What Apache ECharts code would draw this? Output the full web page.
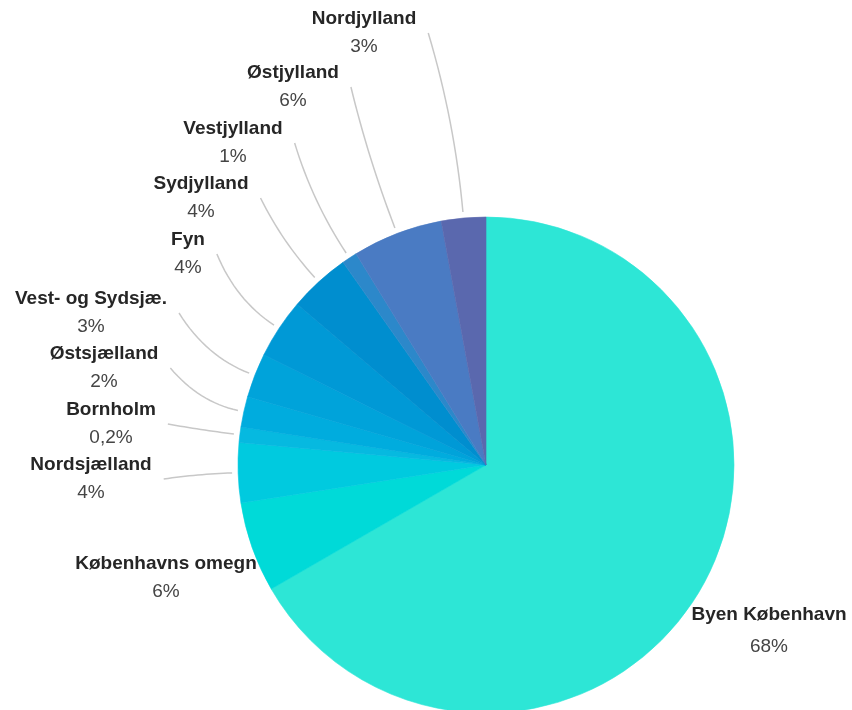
<!DOCTYPE html>
<html><head><meta charset="utf-8">
<script src="https://cdn.jsdelivr.net/npm/echarts@6/dist/echarts.min.js"></script>
<style>html,body{margin:0;padding:0;background:#fff}#c{width:852px;height:710px}</style>
</head><body><div id="c"></div>
<script>
// Data (share of total) and the printed labels
const regions = ['Byen København','Københavns omegn','Nordsjælland','Bornholm','Østsjælland','Vest- og Sydsjæ.','Fyn','Sydjylland','Vestjylland','Østjylland','Nordjylland'];
const shares = [66.8, 5.9, 3.9, 1.0, 2.0, 2.9, 3.9, 4.0, 1.0, 5.9, 2.9];
const shareLabels = ['68%','6%','4%','0,2%','2%','3%','4%','4%','1%','6%','3%'];

// Styling / layout
const colors = ['#2de6d6','#00dad8','#00cadf','#06b9e0','#00acde','#00a3da','#0099d6','#008ecf','#2c88ca','#4a7bc3','#5a68ae'];
const labelPos = [[769,631],[166,578],[91,479],[111,424],[104,368],[91,313],[188,254],[201,198],[233,143],[293,87],[364,33]];
const CX = 486, CY = 465, R = 248;
const FONT = "'Liberation Sans', Arial, sans-serif";

const total = shares.reduce((a,b)=>a+b,0);
const chart = echarts.init(document.getElementById('c'), null, {renderer:'canvas'});

function bezierPts(a, c, b, n) {
  const pts = [];
  for (let s = 0; s <= n; s++) {
    const t = s / n, u = 1 - t;
    pts.push([u*u*a[0] + 2*u*t*c[0] + t*t*b[0], u*u*a[1] + 2*u*t*c[1] + t*t*b[1]]);
  }
  return pts;
}

chart.setOption({
  animation: false,
  backgroundColor: '#fff',
  series: [{
    type: 'pie',
    center: [CX, CY],
    radius: R,
    startAngle: 90,
    clockwise: true,
    avoidLabelOverlap: false,
    silent: true,
    emphasis: {disabled: true},
    data: regions.map((n,i)=>({
      name: n, value: shares[i],
      itemStyle: {color: colors[i], borderColor: colors[i], borderWidth: 0.6},
      labelLine: {show: i >= 2}
    })),
    label: {
      show: true,
      position: 'outside',
      formatter: p => p.dataIndex === 0
        ? '{nb|' + p.name + '}\n{pb|' + shareLabels[p.dataIndex] + '}'
        : '{n|' + p.name + '}\n{p|' + shareLabels[p.dataIndex] + '}',
      rich: {
        n: {fontSize: 19, fontWeight: 'bold', color: '#262626', lineHeight: 28, fontFamily: FONT, align: 'center'},
        p: {fontSize: 19, color: '#454545', lineHeight: 28, fontFamily: FONT, align: 'center'},
        nb: {fontSize: 19, fontWeight: 'bold', color: '#262626', lineHeight: 32, fontFamily: FONT, align: 'center'},
        pb: {fontSize: 19, color: '#454545', lineHeight: 32, fontFamily: FONT, align: 'center'}
      }
    },
    labelLine: {
      show: true,
      smooth: false,
      lineStyle: {color: '#c8c8c8', width: 1.5}
    },
    labelLayout: function (p) {
      const i = p.dataIndex;
      const pos = labelPos[i];
      const res = {x: pos[0], y: pos[1], align: 'center', verticalAlign: 'middle'};
      if (i >= 2) {
        let before = 0;
        for (let k = 0; k < i; k++) before += shares[k];
        const mid = (before + shares[i] / 2) / total * 2 * Math.PI;
        const dx = Math.sin(mid), dy = -Math.cos(mid);
        const p0 = [CX + (R + 6) * dx, CY + (R + 6) * dy];
        const end = [pos[0] + p.labelRect.width / 2 + 12, pos[1]];
        const d = Math.hypot(end[0] - p0[0], end[1] - p0[1]);
        const c = [CX + (R + 6 + d * 0.5) * dx, CY + (R + 6 + d * 0.5) * dy];
        res.labelLinePoints = bezierPts(p0, c, end, 16);
      }
      return res;
    }
  }]
});
</script>
</body></html>
